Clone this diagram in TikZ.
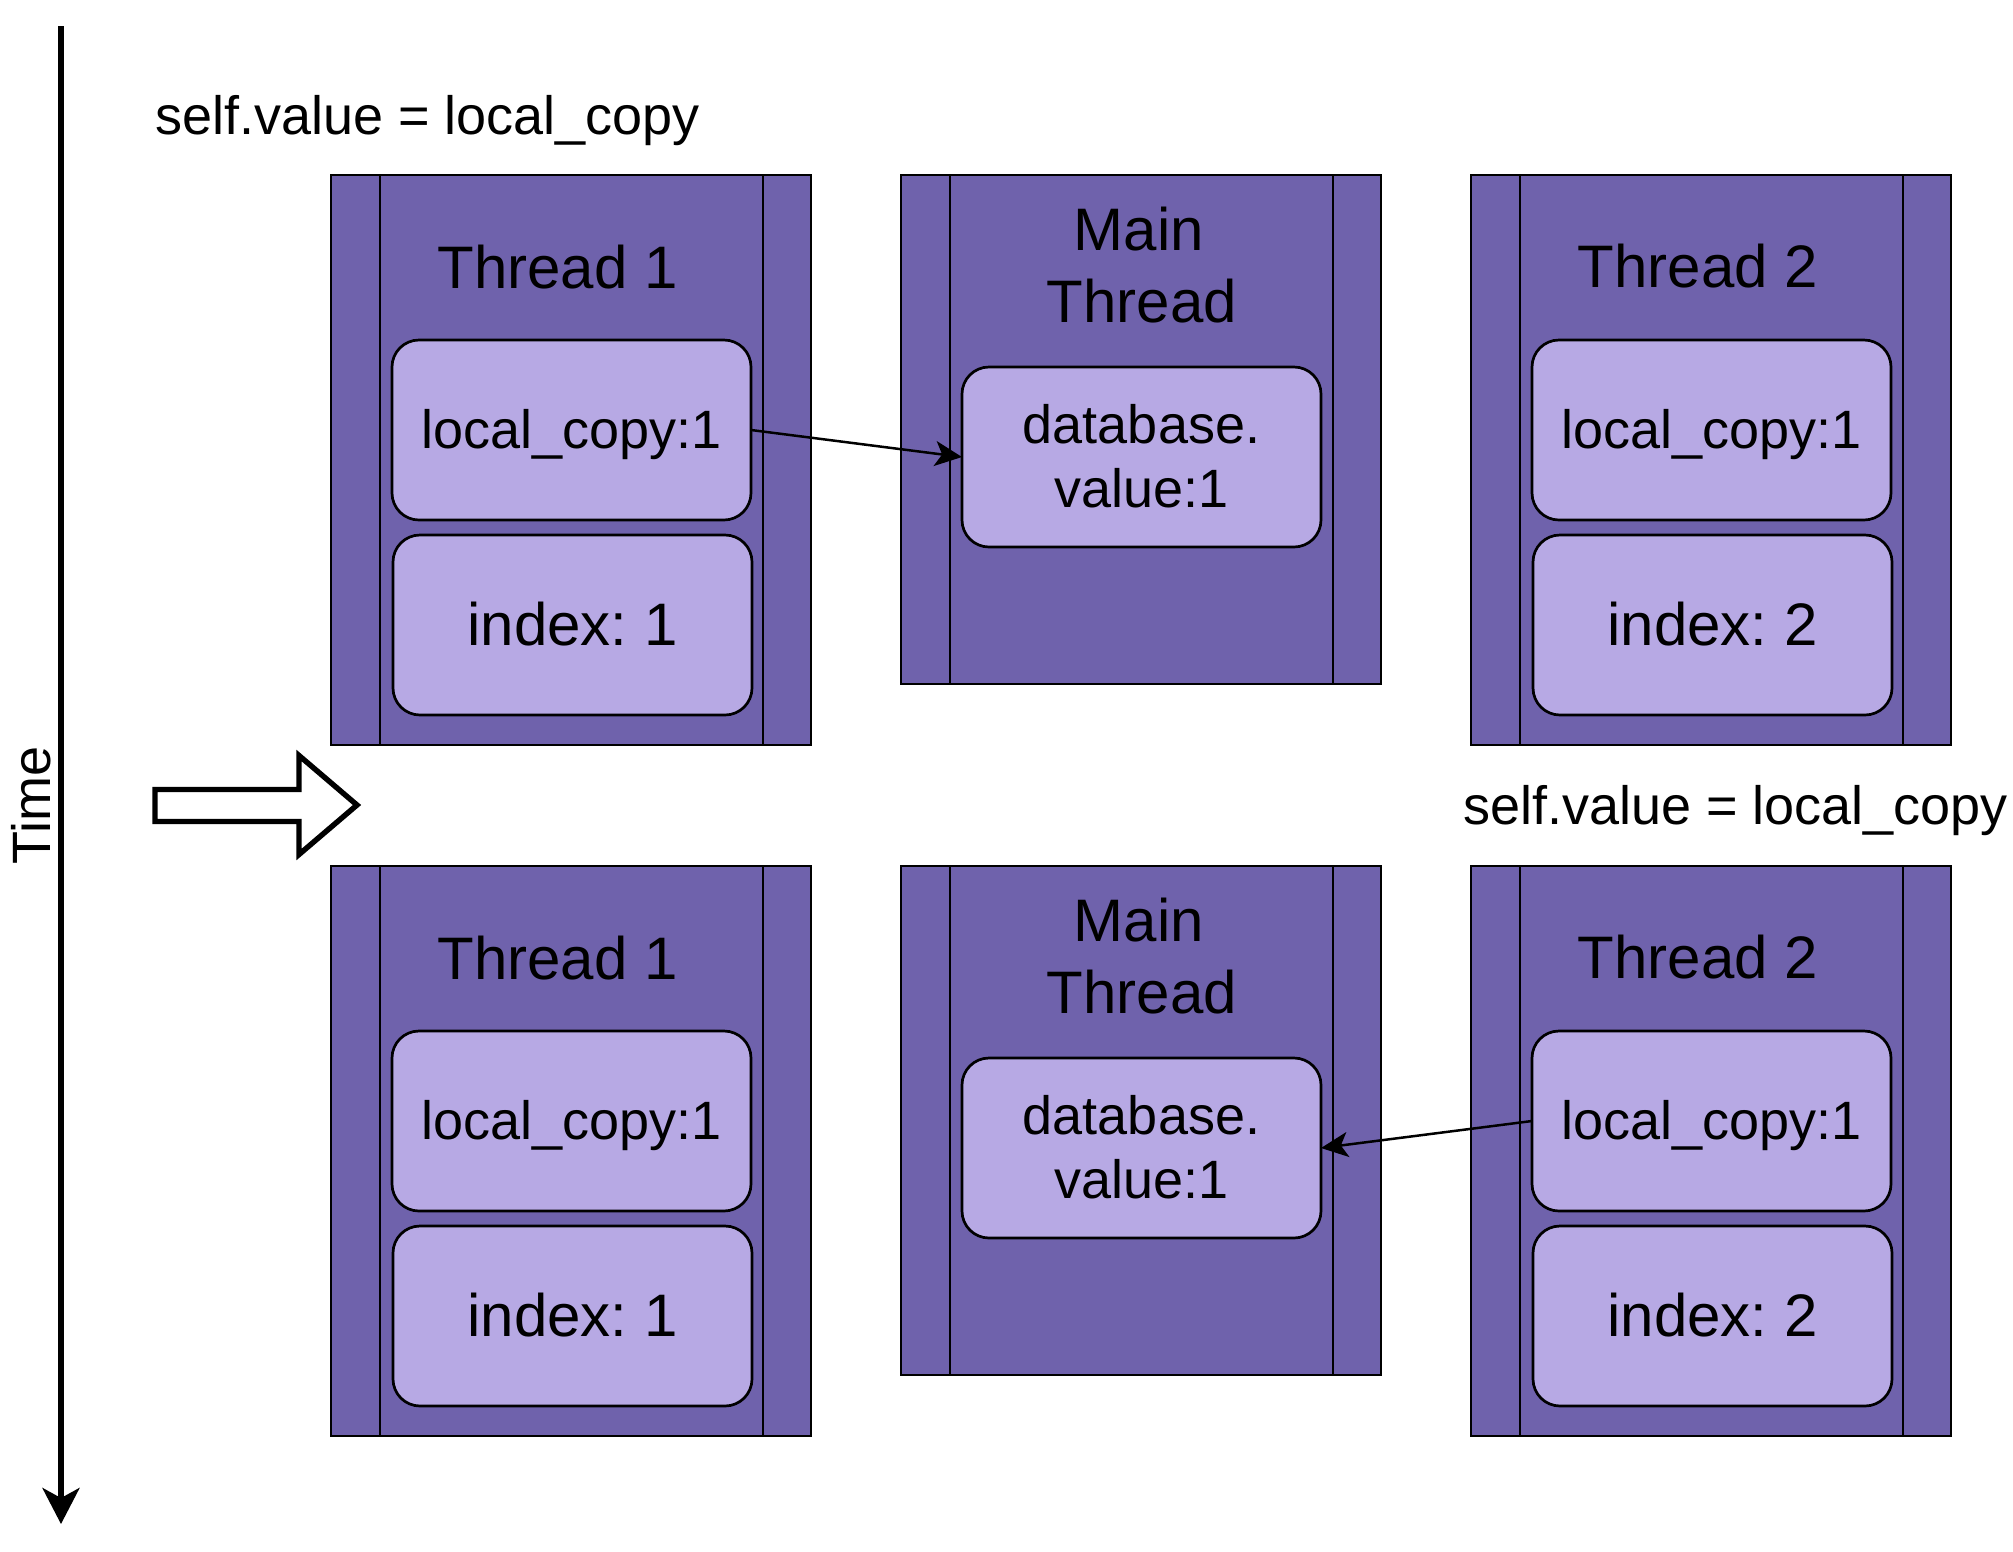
\documentclass[tikz,border=0pt]{standalone}
\usepackage{fontspec}
\setmainfont{Liberation Sans}
\usetikzlibrary{arrows.meta}
\definecolor{outerfill}{HTML}{6F62AC}
\definecolor{innerfill}{HTML}{B7A9E4}
\frenchspacing
\begin{document}
\begin{tikzpicture}[x=1pt,y=-1pt,
  every node/.append style={execute at begin node=\frenchspacing},
  thread/.style={draw=black, line width=2.7pt, fill=outerfill, minimum width=480pt, inner sep=0pt, outer sep=0pt},
  lane/.style={draw=black, line width=2.2pt},
  slot/.style={draw=black, line width=2.7pt, fill=innerfill, rounded corners=27pt, minimum width=359pt, minimum height=180pt, inner sep=0pt, outer sep=0pt, font=\fontsize{54}{64.8}\selectfont, text height=48.9pt, text depth=11.4pt},
  bigslot/.style={slot, font=\fontsize{60}{72}\selectfont, text height=54.3pt, text depth=12.7pt},
  title/.style={font=\fontsize{60}{72}\selectfont, anchor=base, inner sep=0pt},
  lbl/.style={font=\fontsize{54}{64.8}\selectfont, anchor=base west, inner sep=0pt},
  conn/.style={line width=2.5pt, -{Stealth[length=27pt,width=25pt,inset=7pt]}},
]
\useasboundingbox (0,0) rectangle (2013,1551);

% time axis
\coordinate (ttop) at (61,26);
\coordinate (tbot) at (61,1524);
\draw[line width=5.4pt, -{Stealth[length=36pt,width=37pt,inset=10pt]}] (ttop) -- (tbot);
\node[font=\fontsize{54}{64.8}\selectfont, rotate=90, anchor=base, inner sep=0pt] (time) at (50,805) {Time};

% hollow arrow
\draw[line width=5.4pt, fill=white, line join=miter]
  (155,789.5) -- (299,789.5) -- (299,755.5) -- (357,805) -- (299,854.5) -- (299,821.5) -- (155,821.5) -- cycle;

% labels
\node[lbl] (la) at (155,134) {self.value = local\_copy};
\node[lbl] (lb) at (1463,824) {self.value = local\_copy};

% ---------- row 1 ----------
\node[thread, minimum height=570pt] (t1a) at (571,460) {};
\node[thread, minimum height=509pt] (ma)  at (1141,429.5) {};
\node[thread, minimum height=570pt] (t2a) at (1711,460) {};
\foreach \n in {t1a,ma,t2a}{
  \draw[lane] ([xshift=49pt]\n.north west) -- ([xshift=49pt]\n.south west);
  \draw[lane] ([xshift=-48pt]\n.north east) -- ([xshift=-48pt]\n.south east);
}
\node[title] (t1at) at (557.5,288) {Thread 1};
\node[title] (t2at) at (1698,287) {Thread 2};
\node[title] (mat1) at (1139,250) {Main};
\node[title] (mat2) at (1142,322) {Thread};

\node[slot] (lc1a) at (571.5,430) {local\_copy:1};
\node[bigslot] (ix1a) at (572.5,625) {index: 1};
\node[slot] (dba)  at (1141.5,457) {};
\node[lbl, anchor=base] (dba1) at (1141.5,443) {database.};
\node[lbl, anchor=base] (dba2) at (1141.5,507) {value:1};
\node[slot] (lc2a) at (1711.5,430) {local\_copy:1};
\node[bigslot] (ix2a) at (1712.5,625) {index: 2};

\draw[conn] (lc1a.east) -- (dba.west);

% ---------- row 2 ----------
\node[thread, minimum height=570pt] (t1b) at (571,1151) {};
\node[thread, minimum height=509pt] (mb)  at (1141,1120.5) {};
\node[thread, minimum height=570pt] (t2b) at (1711,1151) {};
\foreach \n in {t1b,mb,t2b}{
  \draw[lane] ([xshift=49pt]\n.north west) -- ([xshift=49pt]\n.south west);
  \draw[lane] ([xshift=-48pt]\n.north east) -- ([xshift=-48pt]\n.south east);
}
\node[title] (t1bt) at (557.5,979) {Thread 1};
\node[title] (t2bt) at (1698,978) {Thread 2};
\node[title] (mbt1) at (1139,941) {Main};
\node[title] (mbt2) at (1142,1013) {Thread};

\node[slot] (lc1b) at (571.5,1121) {local\_copy:1};
\node[bigslot] (ix1b) at (572.5,1316) {index: 1};
\node[slot] (dbb)  at (1141.5,1148) {};
\node[lbl, anchor=base] (dbb1) at (1141.5,1134) {database.};
\node[lbl, anchor=base] (dbb2) at (1141.5,1198) {value:1};
\node[slot] (lc2b) at (1711.5,1121) {local\_copy:1};
\node[bigslot] (ix2b) at (1712.5,1316) {index: 2};

\draw[conn] (lc2b.west) -- (dbb.east);
\end{tikzpicture}
\end{document}
